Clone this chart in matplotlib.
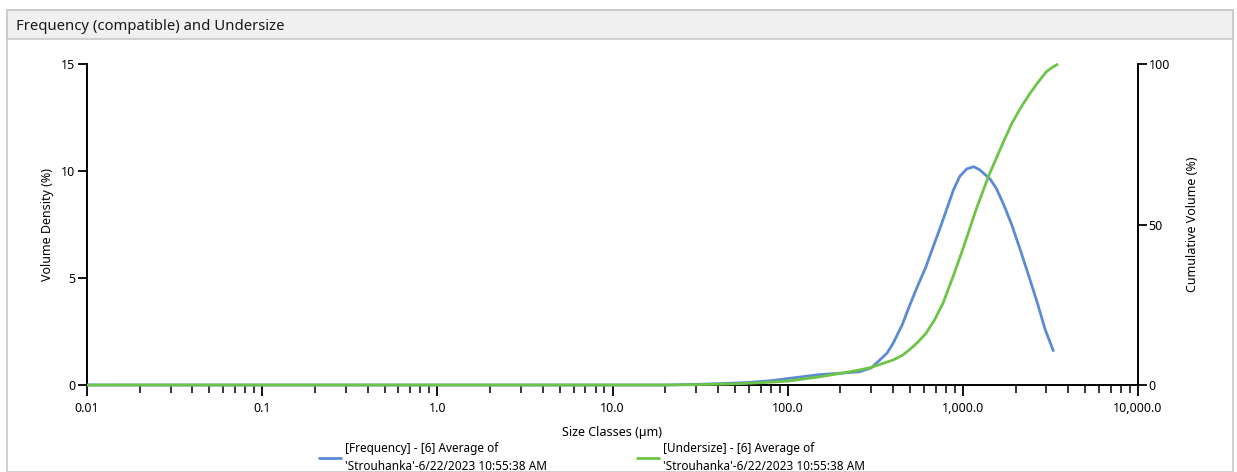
import matplotlib
matplotlib.use("Agg")
import matplotlib.pyplot as plt
from matplotlib.patches import Rectangle
from matplotlib.ticker import FixedLocator, NullFormatter

plt.rcParams["font.family"] = ["Noto Sans", "DejaVu Sans"]

# particle size classes (um) and volume density (%) per class
freq_size = [0.01, 1, 10, 20, 30, 40, 50, 60, 80, 100, 150, 200, 258, 300, 336, 370,
             400, 450, 494, 550, 616, 680, 739, 800, 882, 961, 1053, 1157, 1250, 1433,
             1550, 1707, 1900, 2131, 2400, 2660, 2950, 3300]
freq_vals = [0, 0, 0, 0, 0.03, 0.06, 0.09, 0.12, 0.2, 0.3, 0.48, 0.55, 0.62, 0.8, 1.17, 1.5,
             1.95, 2.8, 3.66, 4.6, 5.53, 6.5, 7.3, 8.1, 9.1, 9.75, 10.1, 10.2, 10.05, 9.62,
             9.2, 8.45, 7.5, 6.3, 5.0, 3.85, 2.6, 1.56]

# cumulative undersize (%)
under_size = [0.01, 1, 10, 20, 30, 50, 70, 100, 150, 200, 258, 300, 336, 400, 450, 494,
              550, 616, 690, 772, 880, 1004, 1096, 1193, 1413, 1707, 1900, 2131, 2400, 2660,
              3000, 3250, 3500]
under_vals = [0, 0, 0, 0, 0.1, 0.35, 0.7, 1.2, 2.5, 3.6, 4.7, 5.5, 6.4, 7.8, 9.2, 10.9,
              13.2, 16.1, 20.3, 25.6, 33.8, 42.6, 48.8, 54.8, 65.5, 75.8, 81.4, 86.2, 90.6, 94.0,
              97.6, 99.0, 100]

x_ticks = [0.01, 0.1, 1, 10, 100, 1000, 10000]
x_labels = ["0.01", "0.1", "1.0", "10.0", "100.0", "1,000.0", "10,000.0"]
minor_ticks = [m * 10.0 ** e for e in range(-2, 4) for m in range(2, 10)]

BLUE = "#5a8bd3"
GREEN = "#6ec447"
W, H = 1237, 472

fig = plt.figure(figsize=(W / 100, H / 100), dpi=100)

# panel frame with title bar (kept behind the axes)
fig.patches.append(Rectangle((7 / W, 0), (W - 11) / W, 1 - 10 / H, transform=fig.transFigure,
                             facecolor="white", edgecolor="#c8c8c8", lw=1.2, zorder=-2))
fig.patches.append(Rectangle((7 / W, 1 - 39 / H), (W - 11) / W, 29 / H, transform=fig.transFigure,
                             facecolor="#f0f0f0", edgecolor="#c8c8c8", lw=1.2, zorder=-1))
fig.text(16 / W, 1 - 26 / H, "Frequency (compatible) and Undersize", fontsize=10.7,
         va="center", ha="left", color="#1a1a1a")

ax = fig.add_axes([87 / W, 1 - 385 / H, (1138 - 87) / W, (385 - 64) / H])
ax.set_facecolor("none")
ax.set_xscale("log")
ax.set_xlim(0.01, 10000)
ax.set_ylim(0, 15)
for s in ["top", "right"]:
    ax.spines[s].set_visible(False)
for s in ["left", "bottom"]:
    ax.spines[s].set_linewidth(1.4)
ax.xaxis.set_major_locator(FixedLocator(x_ticks))
ax.set_xticklabels(x_labels)
ax.xaxis.set_minor_locator(FixedLocator(minor_ticks))
ax.xaxis.set_minor_formatter(NullFormatter())
ax.set_yticks([0, 5, 10, 15])
ax.tick_params(axis="x", which="major", length=8, width=1.3, labelsize=9, pad=4.5)
ax.tick_params(axis="x", which="minor", length=6, width=1.1)
ax.tick_params(axis="y", length=6.5, width=1.3, labelsize=9, pad=2)
ax.set_xlabel("Size Classes (µm)", fontsize=9, labelpad=8)
ax.set_ylabel("Volume Density (%)", fontsize=9, labelpad=5)

ax2 = ax.twinx()
ax2.set_ylim(0, 100)
for s in ["top", "left", "bottom"]:
    ax2.spines[s].set_visible(False)
ax2.spines["right"].set_linewidth(1.4)
ax2.set_yticks([0, 50, 100])
ax2.tick_params(axis="y", length=6.5, width=1.3, labelsize=9, pad=1)
ax2.set_ylabel("Cumulative Volume (%)", fontsize=9, labelpad=12)

l1, = ax.plot(freq_size, freq_vals, color=BLUE, lw=2.0, clip_on=False, solid_capstyle="butt")
l2, = ax2.plot(under_size, under_vals, color=GREEN, lw=2.0, clip_on=False, solid_capstyle="butt")

lab1 = "[Frequency] - [6] Average of\n'Strouhanka'-6/22/2023 10:55:38 AM"
lab2 = "[Undersize] - [6] Average of\n'Strouhanka'-6/22/2023 10:55:38 AM"
for line, lab, x0 in [(l1, lab1, 318), (l2, lab2, 636)]:
    leg = fig.legend([line], [lab], loc="upper left", bbox_to_anchor=(x0 / W, 1 - 442 / H),
                     frameon=False, fontsize=8.5, handlelength=2.0, handletextpad=0.25,
                     borderpad=0, borderaxespad=0, labelspacing=0)
    for t in leg.get_texts():
        t.set_linespacing(1.45)

fig.savefig("out.png", dpi=100)
